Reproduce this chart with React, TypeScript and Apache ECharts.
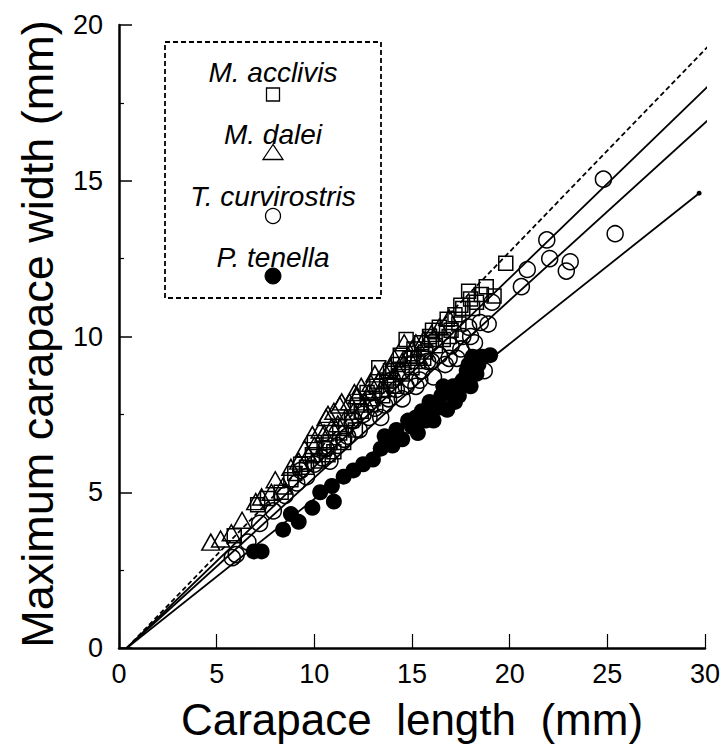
import React, { useEffect, useRef } from "react";
import * as echarts from "echarts";

const xAxisName = "Carapace\u00A0 length\u00A0 (mm)";
const yAxisName = "Maximum carapace width (mm)";
const speciesNames = ["M. acclivis", "M. dalei", "T. curvirostris", "P. tenella"];

// M. acclivis (open squares)
const acclivis: number[][] = [
  [5.9, 3.6], [7.1, 4.6], [7.6, 4.8], [8.3, 5.0], [8.8, 5.4], [9.0, 5.6], [9.3, 5.9], [9.6, 5.8], [9.9, 6.2],
  [10.0, 6.6], [10.2, 6.0], [10.5, 6.4], [10.7, 6.2], [10.8, 6.6], [11.0, 6.3], [11.3, 6.9], [11.5, 6.6],
  [11.6, 7.1], [11.9, 7.3], [12.1, 7.0], [12.2, 7.8], [12.4, 7.6], [12.7, 8.2], [12.9, 7.8], [13.0, 8.0],
  [13.2, 8.4], [13.3, 9.0], [13.5, 8.1], [13.7, 8.6], [13.8, 8.3], [13.9, 8.9], [14.1, 8.4], [14.3, 9.1],
  [14.4, 9.4], [14.5, 8.8], [14.7, 9.9], [14.9, 9.3], [15.0, 9.0], [15.1, 9.6], [15.3, 9.2], [15.5, 9.8],
  [15.6, 9.3], [15.7, 9.5], [15.9, 10.0], [16.0, 9.9], [16.05, 10.2], [16.2, 9.7], [16.4, 10.3], [16.6, 9.9],
  [16.8, 10.55], [16.9, 10.0], [17.0, 10.2], [17.2, 10.7], [17.4, 10.4], [17.5, 11.0], [17.6, 10.9],
  [17.9, 11.45], [18.0, 11.2], [18.1, 10.9], [18.3, 11.1], [18.55, 11.35], [18.8, 11.6], [19.2, 11.3],
  [19.8, 12.35],
];

// M. dalei (open triangles)
const dalei: number[][] = [
  [4.7, 3.4], [5.2, 3.5], [5.75, 3.7], [6.3, 4.1], [7.0, 4.7], [7.3, 4.85], [7.8, 5.0], [8.0, 5.4],
  [8.4, 5.2], [8.8, 5.8], [9.2, 6.0], [9.5, 6.4], [9.7, 6.2], [9.9, 6.85], [10.0, 6.5], [10.3, 7.0],
  [10.5, 6.9], [10.6, 7.4], [10.7, 7.5], [10.9, 7.1], [11.0, 7.6], [11.2, 7.2], [11.3, 7.8], [11.4, 7.9],
  [11.6, 7.4], [11.8, 7.9], [12.0, 7.6], [12.05, 8.2], [12.2, 8.1], [12.4, 8.4], [12.6, 7.9], [12.8, 8.2],
  [12.9, 8.5], [13.1, 8.8], [13.3, 8.6], [13.4, 8.3], [13.6, 8.9], [13.9, 9.0], [14.0, 8.7], [14.1, 9.3],
  [14.3, 8.9], [14.5, 9.2], [14.6, 9.8], [14.8, 9.4], [15.0, 9.6], [15.2, 9.8], [15.3, 9.4], [15.6, 9.9],
  [16.0, 10.1], [16.4, 10.3], [16.9, 10.6],
];

// T. curvirostris (open circles)
const curvirostris: number[][] = [
  [5.8, 2.9], [6.0, 3.0], [6.6, 3.4], [7.2, 4.0], [7.9, 4.4], [8.5, 4.9], [9.1, 5.3], [9.3, 5.7], [9.6, 5.5],
  [10.0, 5.9], [10.4, 6.1], [10.6, 6.4], [10.8, 6.0], [11.2, 6.5], [11.5, 6.7], [11.7, 6.8], [12.0, 7.3],
  [12.3, 7.0], [12.5, 7.5], [12.8, 7.4], [13.1, 7.7], [13.4, 7.4], [13.6, 7.8], [13.8, 8.0], [14.0, 8.6],
  [14.2, 8.3], [14.5, 8.0], [14.7, 8.4], [14.9, 8.6], [15.2, 8.4], [15.4, 8.6], [15.5, 8.9], [15.8, 9.2],
  [16.0, 9.2], [16.1, 8.7], [16.4, 9.4], [16.7, 9.1], [16.9, 9.3], [17.0, 9.7], [17.3, 9.3], [17.5, 9.6],
  [17.6, 10.0], [17.9, 10.3], [18.0, 10.0], [18.2, 9.8], [18.5, 10.45], [18.7, 8.9], [18.9, 10.4],
  [19.1, 11.1], [20.6, 11.6], [20.9, 12.15], [21.9, 13.1], [22.05, 12.5], [22.9, 12.1], [23.1, 12.4],
  [24.8, 15.05], [25.4, 13.3],
];

// P. tenella (filled circles)
const tenella: number[][] = [
  [6.9, 3.1], [7.3, 3.1], [8.4, 3.8], [8.8, 4.3], [9.2, 4.05], [9.9, 4.5], [10.3, 5.0], [10.9, 5.2],
  [11.0, 4.7], [11.5, 5.5], [12.0, 5.7], [12.5, 5.9], [13.0, 6.05], [13.4, 6.4], [13.6, 6.8], [13.8, 6.6],
  [14.0, 6.5], [14.2, 7.0], [14.5, 6.7], [14.8, 7.3], [15.0, 7.1], [15.2, 7.4], [15.3, 6.9], [15.5, 7.6],
  [15.7, 7.3], [15.9, 7.9], [16.0, 7.7], [16.1, 7.3], [16.3, 7.7], [16.5, 8.1], [16.6, 8.4], [16.8, 7.65],
  [17.0, 8.3], [17.1, 8.4], [17.2, 7.9], [17.4, 8.1], [17.5, 8.5], [17.6, 8.6], [17.8, 8.9], [17.9, 9.1],
  [18.0, 8.4], [18.1, 9.35], [18.3, 8.8], [18.4, 9.1], [18.6, 9.35], [19.0, 9.4],
];

// regression lines: start and end points
const acclivisLine: number[][] = [[0.4, 0], [30.6, 19.6]];
const daleiLine: number[][] = [[0.4, 0], [30.6, 18.3]];
const curvirostrisLine: number[][] = [[0.4, 0], [30.6, 17.2]];
const tenellaLine: number[][] = [[0.4, 0], [29.7, 14.6]];

const FONT = "'Liberation Sans', Arial, Helvetica, sans-serif";

export default function App() {
  const ref = useRef<HTMLDivElement>(null);
  useEffect(() => {
    if (!ref.current) return;
    const chart = echarts.init(ref.current, null, { renderer: "svg" });
    const hollow = { color: "rgba(0,0,0,0)", borderColor: "#000", borderWidth: 1.5, opacity: 1 };
    const lineSeries = (data: number[][], dashed: boolean, endDot: boolean) => ({
      type: "line",
      data: data.map((d, i) =>
        i === data.length - 1 && endDot
          ? { value: d, symbol: "circle", symbolSize: 5, itemStyle: { color: "#000" } }
          : { value: d, symbol: "none" }
      ),
      showSymbol: true,
      symbol: "none",
      clip: false,
      silent: true,
      lineStyle: { color: "#000", width: 1.8, type: dashed ? [5, 3] : "solid" },
      z: 3,
    });
    chart.setOption({
      animation: false,
      backgroundColor: "#fff",
      grid: { left: 119, right: 19, top: 25, bottom: 98 },
      xAxis: {
        type: "value",
        min: 0,
        max: 30,
        interval: 5,
        axisLine: { lineStyle: { color: "#000", width: 2.5 } },
        axisTick: { inside: true, length: 14, lineStyle: { color: "#000", width: 1.2 } },
        splitLine: { show: false },
        axisLabel: { color: "#000", fontSize: 27, fontFamily: FONT, margin: 12 },
      },
      yAxis: {
        type: "value",
        min: 0,
        max: 20,
        interval: 5,
        axisLine: { lineStyle: { color: "#000", width: 2.5 } },
        axisTick: { inside: true, length: 13, lineStyle: { color: "#000", width: 1.5 } },
        minorTick: { show: true, splitNumber: 2, length: 5, lineStyle: { color: "#000", width: 1.2 } },
        splitLine: { show: false },
        minorSplitLine: { show: false },
        axisLabel: { color: "#000", fontSize: 27, fontFamily: FONT, margin: 16 },
      },
      graphic: [
        {
          type: "text",
          style: { text: xAxisName, x: 412, y: 719, textAlign: "center", textVerticalAlign: "middle", font: `44px ${FONT}`, fill: "#000" },
        },
        {
          type: "text",
          x: 37,
          y: 334,
          rotation: Math.PI / 2,
          style: { text: yAxisName, x: 0, y: 0, textAlign: "center", textVerticalAlign: "middle", font: `45px ${FONT}`, fill: "#000" },
        },
        {
          type: "rect",
          shape: { x: 165, y: 42, width: 216, height: 256 },
          style: { fill: "none", stroke: "#000", lineWidth: 1.8, lineDash: [5, 3] },
        },
        ...speciesNames.map((name, i) => ({
          type: "text",
          style: {
            text: name,
            x: 273,
            y: [72, 134, 196, 257][i],
            textAlign: "center",
            textVerticalAlign: "middle",
            font: `italic 28px ${FONT}`,
            fill: "#000",
          },
        })),
        {
          type: "rect",
          shape: { x: 266.5, y: 88, width: 13, height: 13 },
          style: { fill: "none", stroke: "#000", lineWidth: 1.3 },
        },
        {
          type: "polygon",
          shape: { points: [[273, 144.5], [263, 159.5], [283, 159.5]] },
          style: { fill: "none", stroke: "#000", lineWidth: 1.3 },
        },
        {
          type: "circle",
          shape: { cx: 273, cy: 216, r: 7.5 },
          style: { fill: "none", stroke: "#000", lineWidth: 1.3 },
        },
        {
          type: "circle",
          shape: { cx: 273, cy: 276, r: 8 },
          style: { fill: "#000", stroke: "#000", lineWidth: 1 },
        },
      ],
      series: [
        lineSeries(acclivisLine, true, false),
        lineSeries(daleiLine, false, false),
        lineSeries(curvirostrisLine, false, false),
        lineSeries(tenellaLine, false, true),
        { type: "scatter", name: speciesNames[3], data: tenella, symbol: "circle", symbolSize: 16, itemStyle: { color: "#000", opacity: 1 }, z: 2 },
        { type: "scatter", name: speciesNames[2], data: curvirostris, symbol: "circle", symbolSize: 16, itemStyle: hollow, z: 4 },
        { type: "scatter", name: speciesNames[0], data: acclivis, symbol: "rect", symbolSize: 14, itemStyle: hollow, z: 4 },
        { type: "scatter", name: speciesNames[1], data: dalei, symbol: "triangle", symbolSize: [18, 16], itemStyle: hollow, z: 4 },
      ],
    });
    return () => chart.dispose();
  }, []);
  return (
    <div
      ref={ref}
      style={{ position: "fixed", left: 0, top: 0, width: 724, height: 746, background: "#fff" }}
    />
  );
}
